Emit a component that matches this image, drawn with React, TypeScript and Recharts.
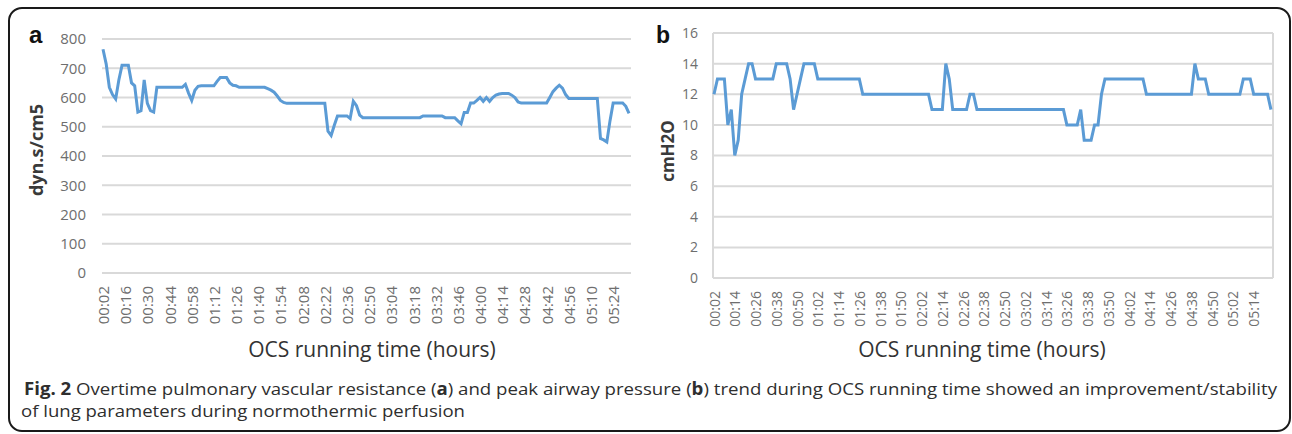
import { LineChart, Line, XAxis, YAxis, CartesianGrid } from 'recharts';

// (a) pulmonary vascular resistance, dyn.s/cm5, one reading every 2 min from 00:02
const pvrValues = [
  765, 715, 635, 610, 595, 660, 710, 710, 710, 650,
  640, 550, 555, 660, 580, 555, 550, 635, 635, 635,
  635, 635, 635, 635, 635, 635, 645, 615, 590, 625,
  638, 640, 640, 640, 640, 640, 655, 668, 668, 668,
  650, 642, 640, 635, 635, 635, 635, 635, 635, 635,
  635, 635, 630, 625, 618, 605, 590, 583, 580, 580,
  580, 580, 580, 580, 580, 580, 580, 580, 580, 580,
  580, 485, 470, 505, 537, 537, 537, 537, 528, 587,
  572, 540, 531, 531, 531, 531, 531, 531, 531, 531,
  531, 531, 531, 531, 531, 531, 531, 531, 531, 531,
  531, 537, 537, 537, 537, 537, 537, 537, 531, 531,
  531, 531, 520, 510, 549, 549, 581, 581, 590, 600,
  587, 600, 587, 600, 608, 612, 614, 614, 614, 608,
  600, 585, 581, 581, 581, 581, 581, 581, 581, 581,
  581, 600, 620, 632, 642, 632, 610, 597, 597, 597,
  597, 597, 597, 597, 597, 597, 597, 460, 455, 448,
  520, 581, 581, 581, 581, 570, 546,
];

// (b) peak airway pressure, cmH2O, one reading every 2 min from 00:02
const pawValues = [
  12, 13, 13, 13, 10, 11, 8, 9, 12, 13,
  14, 14, 13, 13, 13, 13, 13, 13, 14, 14,
  14, 14, 13, 11, 12, 13, 14, 14, 14, 14,
  13, 13, 13, 13, 13, 13, 13, 13, 13, 13,
  13, 13, 13, 12, 12, 12, 12, 12, 12, 12,
  12, 12, 12, 12, 12, 12, 12, 12, 12, 12,
  12, 12, 12, 11, 11, 11, 11, 14, 13, 11,
  11, 11, 11, 11, 12, 12, 11, 11, 11, 11,
  11, 11, 11, 11, 11, 11, 11, 11, 11, 11,
  11, 11, 11, 11, 11, 11, 11, 11, 11, 11,
  11, 11, 10, 10, 10, 10, 11, 9, 9, 9,
  10, 10, 12, 13, 13, 13, 13, 13, 13, 13,
  13, 13, 13, 13, 13, 12, 12, 12, 12, 12,
  12, 12, 12, 12, 12, 12, 12, 12, 12, 14,
  13, 13, 13, 12, 12, 12, 12, 12, 12, 12,
  12, 12, 12, 13, 13, 13, 12, 12, 12, 12,
  12, 11,
];

const pvrTicks = [0, 100, 200, 300, 400, 500, 600, 700, 800];
const pawTicks = [0, 2, 4, 6, 8, 10, 12, 14, 16];

const START_MIN = 2;
const STEP_MIN = 2;

const clock = (m: number) =>
  `${String(Math.floor(m / 60)).padStart(2, '0')}:${String(m % 60).padStart(2, '0')}`;

const pvrData = pvrValues.map((v, i) => ({ time: clock(START_MIN + i * STEP_MIN), value: v }));
const pawData = pawValues.map((v, i) => ({ time: clock(START_MIN + i * STEP_MIN), value: v }));

const FONT = '"Open Sans", sans-serif';
const TICK_COLOR = '#6e6e6e';
const GRID = '#d9d9d9';
const LINE = '#5b9bd5';

function TimeTick(props: any) {
  const { x, y, payload, size } = props;
  return (
    <text
      x={x}
      y={y}
      transform={`rotate(-90, ${x}, ${y})`}
      textAnchor="end"
      dominantBaseline="central"
      fontSize={size}
      fontFamily={FONT}
      fill={TICK_COLOR}
    >
      {payload.value}
    </text>
  );
}

export default function App() {
  return (
    <div style={{ position: 'absolute', left: 0, top: 0, width: 1292, height: 434, background: '#fff' }}>
      <div style={{ position: 'absolute', left: 0, top: 0 }}>
        <LineChart width={660} height={400} data={pvrData} margin={{ top: 39, right: 29, bottom: 0, left: 0 }}>
          <CartesianGrid vertical={false} stroke={GRID} strokeWidth={2} />
          <XAxis
            dataKey="time"
            interval={6}
            height={127}
            axisLine={false}
            tickLine={false}
            tickMargin={7}
            padding={{ left: 1, right: 2 }}
            tick={(p: any) => <TimeTick {...p} size={15} />}
          />
          <YAxis
            width={102}
            domain={[0, 800]}
            ticks={pvrTicks}
            axisLine={false}
            tickLine={false}
            tickMargin={10}
            tick={{ fill: TICK_COLOR, fontSize: 15, fontFamily: FONT }}
          />
          <Line type="linear" dataKey="value" stroke={LINE} strokeWidth={3} dot={false} isAnimationActive={false} />
        </LineChart>
      </div>

      <div style={{ position: 'absolute', left: 640, top: 0 }}>
        <LineChart width={650} height={400} data={pawData} margin={{ top: 33, right: 17, bottom: 0, left: 0 }}>
          <CartesianGrid
            stroke={GRID}
            strokeWidth={2}
            verticalCoordinatesGenerator={({ offset }: any) => [offset.left, offset.left + offset.width]}
          />
          <XAxis
            dataKey="time"
            interval={5}
            height={122}
            axisLine={false}
            tickLine={false}
            tickMargin={7}
            padding={{ left: 1, right: 2 }}
            tick={(p: any) => <TimeTick {...p} size={14} />}
          />
          <YAxis
            width={73}
            domain={[0, 16]}
            ticks={pawTicks}
            axisLine={false}
            tickLine={false}
            tickMargin={9}
            tick={{ fill: TICK_COLOR, fontSize: 14, fontFamily: FONT }}
          />
          <Line type="linear" dataKey="value" stroke={LINE} strokeWidth={3} dot={false} isAnimationActive={false} />
        </LineChart>
      </div>

      <svg width={1292} height={434} style={{ position: 'absolute', left: 0, top: 0, pointerEvents: 'none' }}>
        <rect x={9} y={8} width={1281} height={423} rx={13} fill="none" stroke="#1a1a1a" strokeWidth={2} />

        <text x={29} y={43} fontSize={24} fontWeight="bold" fontFamily="'Liberation Sans', Arial, sans-serif" fill="#111">a</text>
        <text x={656} y={43} fontSize={23} fontWeight="bold" fontFamily="'Liberation Sans', Arial, sans-serif" fill="#111">b</text>

        <text transform="translate(43,150) rotate(-90)" textAnchor="middle" fontSize={18} fontWeight="bold" fontFamily={FONT} fill="#3a3a3a">dyn.s/cm5</text>
        <text transform="translate(674,151) rotate(-90)" textAnchor="middle" fontSize={17} fontWeight="bold" fontFamily={FONT} fill="#3a3a3a">cmH2O</text>

        <text x={372} y={357} textAnchor="middle" fontSize={21} fontFamily={FONT} fill="#333">OCS running time (hours)</text>
        <text x={982} y={357} textAnchor="middle" fontSize={21} fontFamily={FONT} fill="#333">OCS running time (hours)</text>

        <text x={24} y={395} fontSize={17} fontFamily={FONT} fill="#2e2e2e" textLength={1253} lengthAdjust="spacingAndGlyphs">
          <tspan fontWeight="bold">Fig. 2</tspan> Overtime pulmonary vascular resistance (<tspan fontWeight="bold">a</tspan>) and peak airway pressure (<tspan fontWeight="bold">b</tspan>) trend during OCS running time showed an improvement/stability
        </text>
        <text x={21} y={417} fontSize={17} fontFamily={FONT} fill="#2e2e2e" textLength={444} lengthAdjust="spacingAndGlyphs">
          of lung parameters during normothermic perfusion
        </text>
      </svg>
    </div>
  );
}
